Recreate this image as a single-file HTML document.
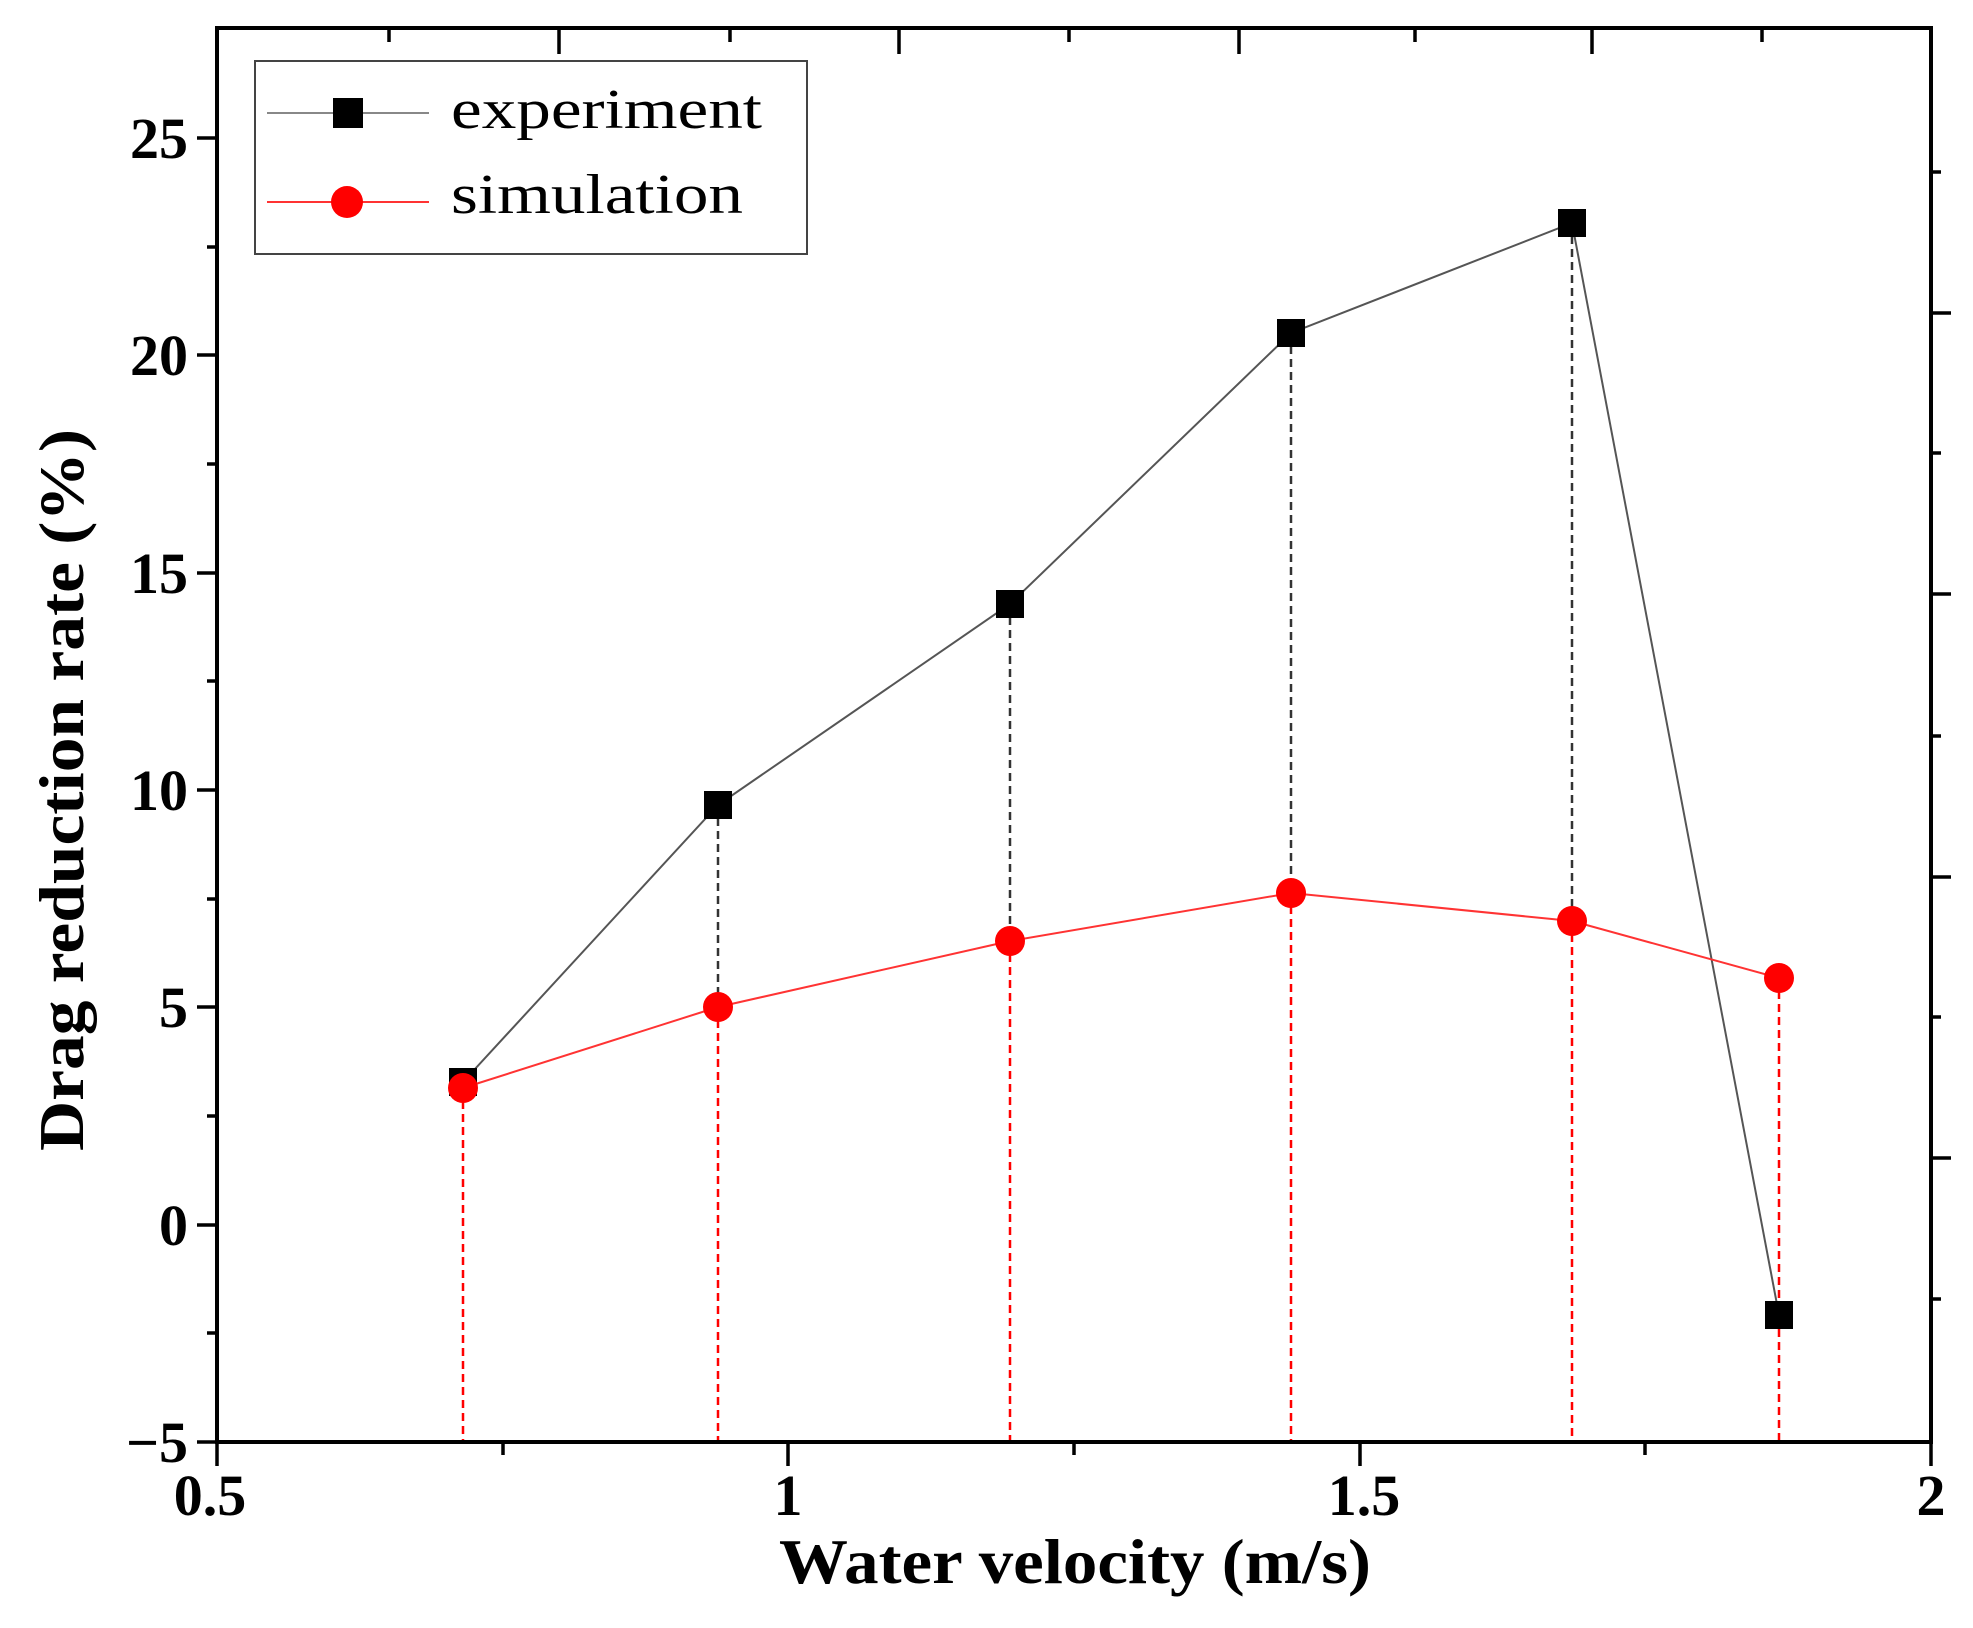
<!DOCTYPE html>
<html><head><style>body{margin:0;background:#fff}svg{display:block}</style></head><body>
<svg width="1973" height="1628" xmlns="http://www.w3.org/2000/svg" font-family="Liberation Serif, serif">
<rect width="1973" height="1628" fill="#fff"/>
<!-- dashed verticals -->
<g stroke-width="2.5" stroke-dasharray="8,5" fill="none">
<g stroke="#333">
<line x1="463" y1="1082" x2="463" y2="1088"/>
<line x1="718" y1="805" x2="718" y2="1007"/>
<line x1="1010" y1="604" x2="1010" y2="941"/>
<line x1="1291" y1="333" x2="1291" y2="893"/>
<line x1="1572" y1="223" x2="1572" y2="921"/>
</g>
<g stroke="#f00">
<line x1="463" y1="1088" x2="463" y2="1442"/>
<line x1="718" y1="1007" x2="718" y2="1442"/>
<line x1="1010" y1="941" x2="1010" y2="1442"/>
<line x1="1291" y1="893" x2="1291" y2="1442"/>
<line x1="1572" y1="921" x2="1572" y2="1442"/>
<line x1="1779" y1="978" x2="1779" y2="1442"/>
</g>
</g>
<!-- series -->
<polyline points="463,1082 718,805 1010,604 1291,333 1572,223 1779,1315" fill="none" stroke="#555" stroke-width="2"/>
<polyline points="463,1088 718,1007 1010,941 1291,893 1572,921 1779,978" fill="none" stroke="#f33" stroke-width="2"/>
<g fill="#000">
<rect x="449" y="1068" width="28" height="28"/>
<rect x="704" y="791" width="28" height="28"/>
<rect x="996" y="590" width="28" height="28"/>
<rect x="1277" y="319" width="28" height="28"/>
<rect x="1558" y="209" width="28" height="28"/>
<rect x="1765" y="1301" width="28" height="28"/>
</g>
<g fill="#f00">
<circle cx="463" cy="1088" r="15"/><circle cx="718" cy="1007" r="15"/><circle cx="1010" cy="941" r="15"/>
<circle cx="1291" cy="893" r="15"/><circle cx="1572" cy="921" r="15"/><circle cx="1779" cy="978" r="15"/>
</g>
<!-- frame -->
<rect x="217" y="28" width="1714" height="1414" fill="none" stroke="#000" stroke-width="4"/>
<g stroke="#000" stroke-width="3.5">
<!-- left ticks -->
<line x1="197" y1="138" x2="217" y2="138"/><line x1="197" y1="355" x2="217" y2="355"/><line x1="197" y1="573" x2="217" y2="573"/><line x1="197" y1="790" x2="217" y2="790"/><line x1="197" y1="1007" x2="217" y2="1007"/><line x1="197" y1="1225" x2="217" y2="1225"/><line x1="197" y1="1442" x2="217" y2="1442"/>
<line x1="207" y1="247" x2="217" y2="247"/><line x1="207" y1="464" x2="217" y2="464"/><line x1="207" y1="681" x2="217" y2="681"/><line x1="207" y1="899" x2="217" y2="899"/><line x1="207" y1="1116" x2="217" y2="1116"/><line x1="207" y1="1333" x2="217" y2="1333"/>
<!-- bottom ticks -->
<line x1="217" y1="1442" x2="217" y2="1466"/><line x1="788" y1="1442" x2="788" y2="1466"/><line x1="1360" y1="1442" x2="1360" y2="1466"/><line x1="1931" y1="1442" x2="1931" y2="1466"/>
<line x1="503" y1="1442" x2="503" y2="1455"/><line x1="1074" y1="1442" x2="1074" y2="1455"/><line x1="1645" y1="1442" x2="1645" y2="1455"/>
<!-- top ticks -->
<line x1="559" y1="28" x2="559" y2="54"/><line x1="899" y1="28" x2="899" y2="54"/><line x1="1239" y1="28" x2="1239" y2="54"/><line x1="1592" y1="28" x2="1592" y2="54"/>
<line x1="389" y1="28" x2="389" y2="42"/><line x1="730" y1="28" x2="730" y2="42"/><line x1="1069" y1="28" x2="1069" y2="42"/><line x1="1415" y1="28" x2="1415" y2="42"/><line x1="1762" y1="28" x2="1762" y2="42"/>
<!-- right ticks -->
<line x1="1931" y1="313" x2="1951" y2="313"/><line x1="1931" y1="594" x2="1951" y2="594"/><line x1="1931" y1="877" x2="1951" y2="877"/><line x1="1931" y1="1158" x2="1951" y2="1158"/>
<line x1="1931" y1="172" x2="1941" y2="172"/><line x1="1931" y1="453" x2="1941" y2="453"/><line x1="1931" y1="736" x2="1941" y2="736"/><line x1="1931" y1="1017" x2="1941" y2="1017"/><line x1="1931" y1="1299" x2="1941" y2="1299"/>
</g>
<!-- tick labels -->
<g font-weight="bold" font-size="58" text-anchor="end">
<text x="188" y="158">25</text><text x="188" y="375">20</text><text x="188" y="593">15</text><text x="188" y="810">10</text><text x="188" y="1027">5</text><text x="188" y="1245">0</text><text x="188" y="1462">−5</text>
</g>
<g font-weight="bold" font-size="58" text-anchor="middle">
<text x="210" y="1515">0.5</text><text x="788" y="1515">1</text><text x="1364" y="1515">1.5</text><text x="1931" y="1515">2</text>
</g>
<text x="1075" y="1583" font-weight="bold" font-size="64" text-anchor="middle" textLength="592" lengthAdjust="spacingAndGlyphs">Water velocity (m/s)</text>
<text transform="translate(83,790) rotate(-90)" font-weight="bold" font-size="64" text-anchor="middle" textLength="722" lengthAdjust="spacingAndGlyphs">Drag reduction rate (%)</text>
<!-- legend -->
<rect x="255" y="61" width="552" height="193" fill="#fff" stroke="#444" stroke-width="2"/>
<line x1="267" y1="113" x2="429" y2="113" stroke="#888" stroke-width="2"/>
<rect x="333" y="98" width="30" height="30" fill="#000"/>
<line x1="267" y1="202" x2="429" y2="202" stroke="#f33" stroke-width="2"/>
<circle cx="347" cy="202" r="16" fill="#f00"/>
<text x="451" y="128" font-size="56" textLength="311" lengthAdjust="spacingAndGlyphs">experiment</text>
<text x="451" y="213" font-size="56" textLength="292" lengthAdjust="spacingAndGlyphs">simulation</text>
</svg>
</body></html>
